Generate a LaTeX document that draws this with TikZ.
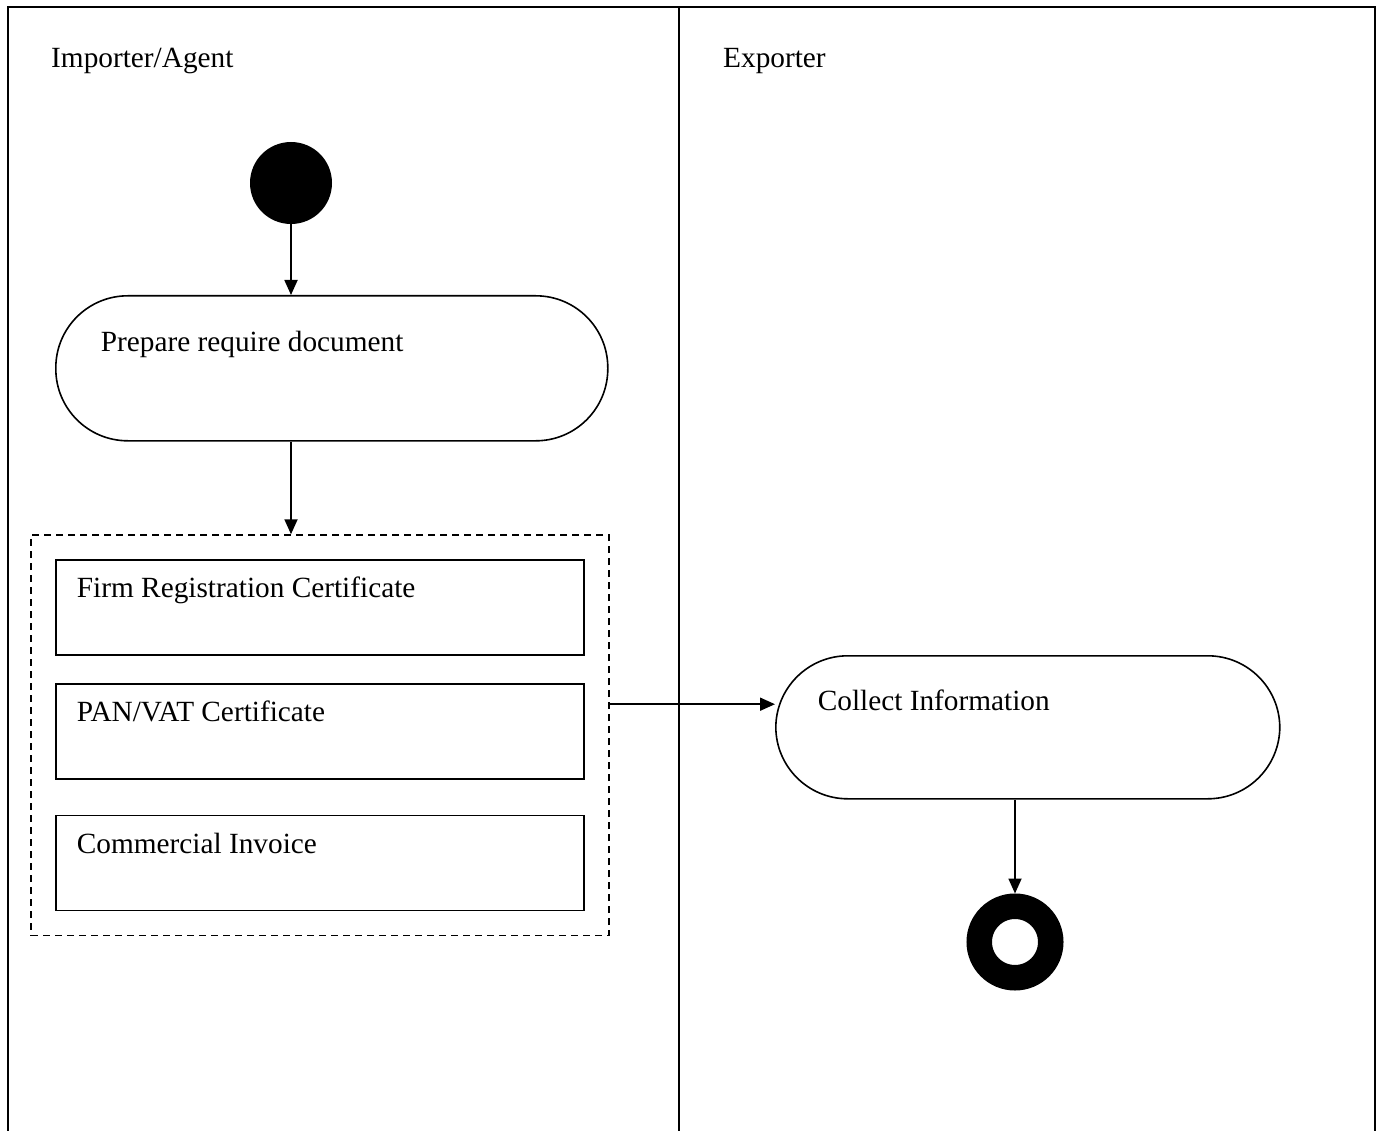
\documentclass[tikz,border=0pt]{standalone}
\usepackage{fontspec}
\setmainfont{Liberation Serif}
\usetikzlibrary{arrows.meta,positioning,fit,calc}

\tikzset{
  lanelabel/.style={anchor=base west, inner sep=0pt},
  actstate/.style={draw, line width=1.6pt, rounded corners=72pt, align=flush left,
                   inner ysep=0pt, anchor=north west},
  docbox/.style={draw, line width=1.8pt, align=flush left, text width=486pt,
                 text height=38pt, text depth=57pt, inner xsep=21pt, inner ysep=0pt},
  flow/.style={line width=1.8pt, -{Triangle[length=15pt,width=13pt]}},
}

\begin{document}
\begin{tikzpicture}[x=1pt, y=-1pt, font=\fontsize{29.3pt}{35pt}\selectfont]
    \useasboundingbox (0,0) rectangle (1379,1131);
    \draw[line width=1.8pt] (8,1140) -- (8,7) -- (1375,7) -- (1375,1140);
    \draw[line width=1.8pt] (679,7) -- (679,1140);

    \node[lanelabel] (importer) at (51,68) {Importer/Agent};
    \node[lanelabel] (exporter) at (723,68) {Exporter};

    \node[circle, fill, inner sep=0pt, minimum size=82pt] (start) at (291,183) {};
    \node[actstate, text width=462pt, inner xsep=45pt, text height=56pt, text depth=89pt]
          (prep) at (55,295) {Prepare require document};

    \node[docbox, anchor=north west] (firm) at (55,559) {Firm Registration Certificate};
    \node[docbox, below=27pt of firm] (pan) {PAN/VAT Certificate};
    \node[docbox, below=35pt of pan] (invoice) {Commercial Invoice};
    \node[draw, dash pattern=on 7pt off 5pt, line width=1.5pt, inner xsep=24pt,
          inner ysep=24pt, fit=(firm)(invoice)] (docs) {};

    \node[actstate, text width=420pt, inner xsep=42pt, text height=55pt, text depth=88pt]
          (collect) at (775,655) {Collect Information};
    \node[circle, draw, line width=25.5pt, inner sep=0pt, minimum size=71.5pt] (stop) at (1015,942) {};

    \draw[flow] (start) -- (start |- prep.north);
    \draw[flow] (prep.south -| start) -- (docs.north -| start);
    \draw[flow] ([yshift=31pt]docs.east) -- ([yshift=31pt]docs.east -| collect.west);
    \draw[flow] (collect.south -| stop) -- (stop);
\end{tikzpicture}
\end{document}
